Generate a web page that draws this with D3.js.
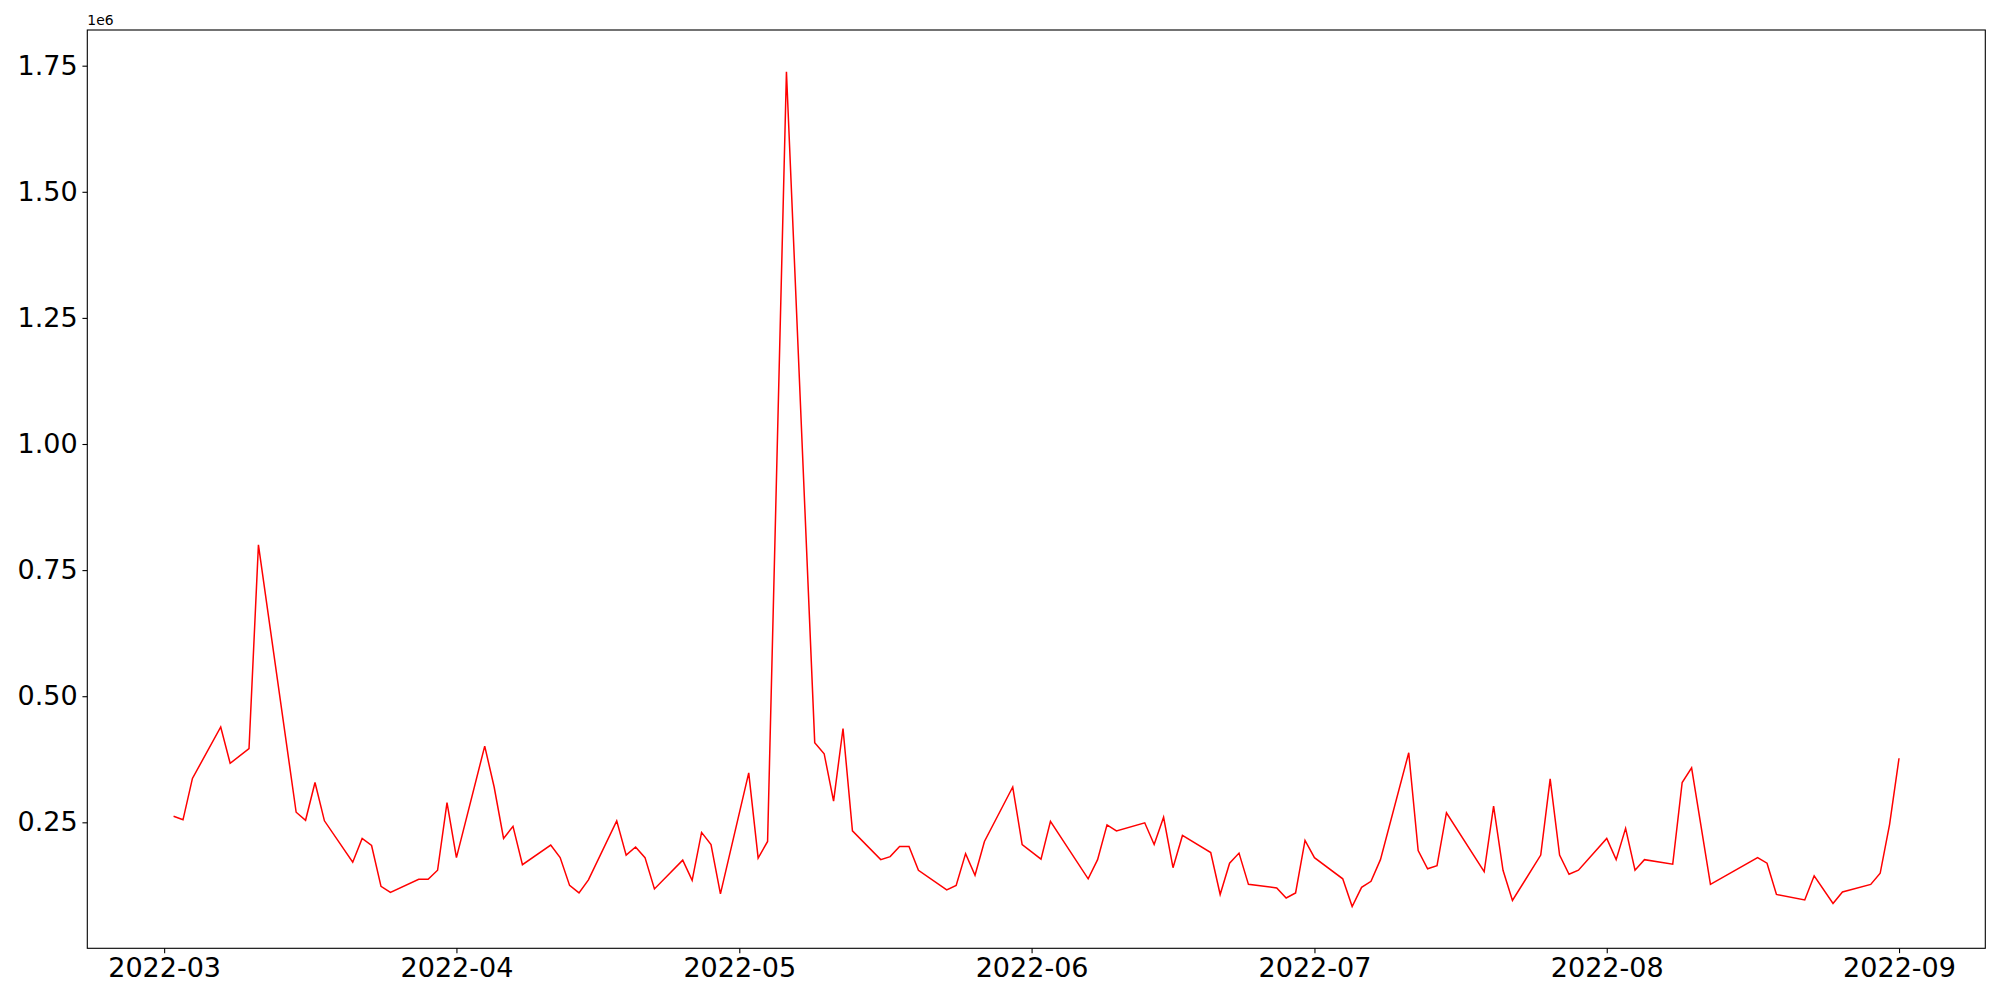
<!DOCTYPE html>
<html>
<head>
<meta charset="utf-8">
<script src="https://cdn.jsdelivr.net/npm/d3@7"></script>
<style>
  body { margin: 0; background: #fff; }
  svg { display: block; }
  svg text { font-family: 'DejaVu Sans', sans-serif; fill: #000; }
  .tick text { font-size: 27px; }
  .tick line { stroke: #000; stroke-width: 1.1; }
</style>
</head>
<body>
<svg></svg>
<script>
// daily values (1e6 units)
const dates = [
  '2022-03-02', '2022-03-03', '2022-03-04', '2022-03-07', '2022-03-08', '2022-03-10', '2022-03-11',
  '2022-03-15', '2022-03-16', '2022-03-17', '2022-03-18', '2022-03-21', '2022-03-22', '2022-03-23',
  '2022-03-24', '2022-03-25', '2022-03-28', '2022-03-29', '2022-03-30', '2022-03-31', '2022-04-01',
  '2022-04-04', '2022-04-05', '2022-04-06', '2022-04-07', '2022-04-08', '2022-04-11', '2022-04-12',
  '2022-04-13', '2022-04-14', '2022-04-15', '2022-04-18', '2022-04-19', '2022-04-20', '2022-04-21',
  '2022-04-22', '2022-04-25', '2022-04-26', '2022-04-27', '2022-04-28', '2022-04-29', '2022-05-02',
  '2022-05-03', '2022-05-04', '2022-05-06', '2022-05-09', '2022-05-10', '2022-05-11', '2022-05-12',
  '2022-05-13', '2022-05-16', '2022-05-17', '2022-05-18', '2022-05-19', '2022-05-20', '2022-05-23',
  '2022-05-24', '2022-05-25', '2022-05-26', '2022-05-27', '2022-05-30', '2022-05-31', '2022-06-02',
  '2022-06-03', '2022-06-07', '2022-06-08', '2022-06-09', '2022-06-10', '2022-06-13', '2022-06-14',
  '2022-06-15', '2022-06-16', '2022-06-17', '2022-06-20', '2022-06-21', '2022-06-22', '2022-06-23',
  '2022-06-24', '2022-06-27', '2022-06-28', '2022-06-29', '2022-06-30', '2022-07-01', '2022-07-04',
  '2022-07-05', '2022-07-06', '2022-07-07', '2022-07-08', '2022-07-11', '2022-07-12', '2022-07-13',
  '2022-07-14', '2022-07-15', '2022-07-19', '2022-07-20', '2022-07-21', '2022-07-22', '2022-07-25',
  '2022-07-26', '2022-07-27', '2022-07-28', '2022-07-29', '2022-08-01', '2022-08-02', '2022-08-03',
  '2022-08-04', '2022-08-05', '2022-08-08', '2022-08-09', '2022-08-10', '2022-08-12', '2022-08-17',
  '2022-08-18', '2022-08-19', '2022-08-22', '2022-08-23', '2022-08-25', '2022-08-26', '2022-08-29',
  '2022-08-30', '2022-08-31', '2022-09-01'
]

const values = [
  0.262, 0.255, 0.337, 0.439, 0.367, 0.396, 0.800,
  0.270, 0.254, 0.329, 0.253, 0.171, 0.218, 0.204,
  0.123, 0.111, 0.137, 0.137, 0.155, 0.289, 0.180,
  0.401, 0.320, 0.218, 0.242, 0.166, 0.205, 0.180,
  0.125, 0.110, 0.136, 0.253, 0.185, 0.201, 0.180,
  0.118, 0.175, 0.135, 0.230, 0.206, 0.108, 0.348,
  0.179, 0.212, 1.738, 0.408, 0.386, 0.292, 0.436,
  0.233, 0.176, 0.182, 0.202, 0.202, 0.155, 0.116,
  0.125, 0.188, 0.145, 0.212, 0.320, 0.206, 0.177,
  0.252, 0.138, 0.176, 0.245, 0.233, 0.249, 0.206,
  0.260, 0.160, 0.224, 0.190, 0.107, 0.169, 0.189,
  0.127, 0.120, 0.100, 0.110, 0.214, 0.180, 0.138,
  0.083, 0.121, 0.133, 0.176, 0.388, 0.194, 0.158,
  0.164, 0.269, 0.152, 0.282, 0.155, 0.095, 0.185,
  0.336, 0.185, 0.147, 0.155, 0.218, 0.176, 0.238,
  0.155, 0.176, 0.167, 0.329, 0.358, 0.127, 0.180,
  0.169, 0.107, 0.096, 0.144, 0.089, 0.112, 0.127,
  0.149, 0.246, 0.377
].map(v => v * 1e6)

const yTicks = [0.25e6, 0.5e6, 0.75e6, 1.0e6, 1.25e6, 1.5e6, 1.75e6]
const xTicks = ['2022-03-01', '2022-04-01', '2022-05-01', '2022-06-01', '2022-07-01', '2022-08-01', '2022-09-01']

const width = 2000,
  height = 1000

const margin = { top: 30, right: 14.7, bottom: 51.7, left: 87.3 }

const parse = d3.utcParse('%Y-%m-%d')
const data = dates.map((d, i) => ({ date: parse(d), value: values[i] }))

// matplotlib style 5% autoscale margins
function padded(ext) {
  const pad = (ext[1] - ext[0]) * 0.05
  return [ext[0] - pad, ext[1] + pad]
}

const xExt = padded(d3.extent(data, d => +d.date))
const yExt = padded(d3.extent(data, d => d.value))

const x = d3.scaleUtc()
  .domain([new Date(xExt[0]), new Date(xExt[1])])
  .range([margin.left, width - margin.right])

const y = d3.scaleLinear()
  .domain(yExt)
  .range([height - margin.bottom, margin.top])

const svg = d3.select('svg')
  .attr('width', width)
  .attr('height', height)

const tickLen = 4.86

svg.append('g')
  .attr('transform', `translate(0,${height - margin.bottom})`)
  .call(d3.axisBottom(x)
    .tickValues(xTicks.map(parse))
    .tickFormat(d3.utcFormat('%Y-%m'))
    .tickSize(tickLen)
    .tickPadding(4.86))
  .call(g => g.attr('font-family', null).attr('font-size', null))
  .call(g => g.select('.domain').remove())

svg.append('g')
  .attr('transform', `translate(${margin.left},0)`)
  .call(d3.axisLeft(y)
    .tickValues(yTicks)
    .tickFormat(v => (v / 1e6).toFixed(2))
    .tickSize(tickLen)
    .tickPadding(4.86))
  .call(g => g.attr('font-family', null).attr('font-size', null))
  .call(g => g.select('.domain').remove())

// offset text
svg.append('text')
  .attr('x', margin.left)
  .attr('y', margin.top - 5)
  .attr('font-size', 13.9)
  .text('1e6')

const line = d3.line()
  .x(d => x(d.date))
  .y(d => y(d.value))

svg.append('path')
  .datum(data)
  .attr('fill', 'none')
  .attr('stroke', 'red')
  .attr('stroke-width', 1.5)
  .attr('stroke-linejoin', 'miter')
  .attr('d', line)

// frame
svg.append('rect')
  .attr('x', margin.left)
  .attr('y', margin.top)
  .attr('width', width - margin.left - margin.right)
  .attr('height', height - margin.top - margin.bottom)
  .attr('fill', 'none')
  .attr('stroke', '#000')
  .attr('stroke-width', 1.1)
</script>
</body>
</html>
